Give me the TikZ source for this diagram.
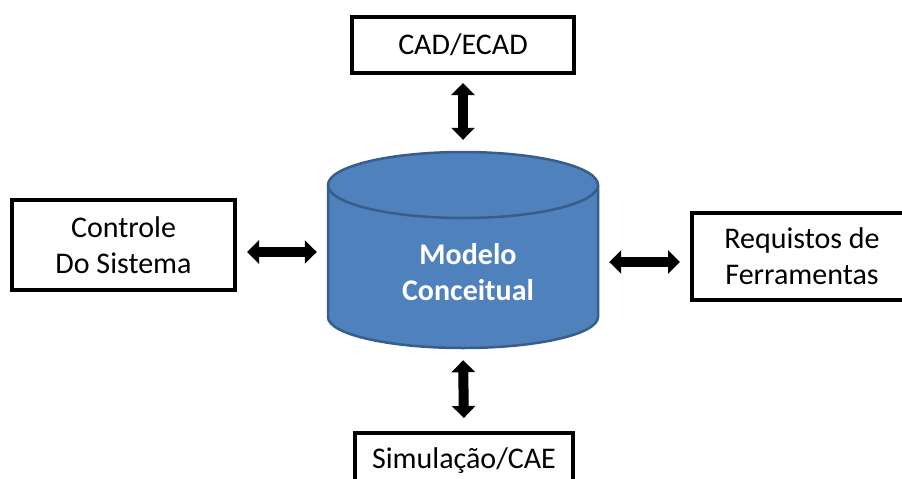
\documentclass[tikz,border=0pt]{standalone}
\usepackage{fontspec}
\setmainfont{Carlito}
\usetikzlibrary{arrows.meta}
\definecolor{dbfill}{HTML}{4F81BD}
\definecolor{dbedge}{HTML}{385D8A}
\begin{document}
\begin{tikzpicture}[x=1pt,y=-1pt,
  box/.style={draw=black,line width=4pt,fill=white,inner sep=0pt,align=center,
    font=\fontsize{30}{36}\selectfont},
  biarrow/.style={line width=10pt,
    {Triangle[width=23pt,length=12pt]}-{Triangle[width=23pt,length=12pt]}},
  dbtext/.style={align=center,text=white,font=\fontsize{30}{36}\selectfont\bfseries}]
\useasboundingbox (0,0) rectangle (902,479);
\clip (0,0) rectangle (902,479);

% central data store drawn as a cylinder (y axis points down)
\fill[dbfill] (328,185) -- (328,317) arc[start angle=180,end angle=0,x radius=135,y radius=31]
  -- (598,185) arc[start angle=0,end angle=-180,x radius=135,y radius=33] -- cycle;
\draw[dbedge,line width=2.5pt] (328,185) -- (328,317)
  arc[start angle=180,end angle=0,x radius=135,y radius=31] -- (598,185);
\draw[dbedge,line width=2.5pt] (463,185) ellipse[x radius=135,y radius=33];
\node[minimum width=270pt,minimum height=196pt,inner sep=0pt] (model) at (463,250) {};
\node[dbtext] (modeltext) at (468,272) {Modelo\\Conceitual};

% surrounding blocks
\node[box,minimum width=222pt,minimum height=56pt] (cad) at (463,45) {CAD/ECAD};
\node[box,minimum width=223pt,minimum height=90pt] (ctrl) at (123.5,245) {Controle\\Do Sistema};
\node[box,minimum width=220pt,minimum height=87pt] (tools) at (802,256.5) {Requistos de\\Ferramentas};
\node[box,minimum width=218pt,minimum height=56pt] (sim) at (464,461) {Simulação/CAE};

% rows of the horizontal links
\coordinate (lrow) at (0,252);
\coordinate (rrow) at (0,262);

% two-way links
\draw[biarrow,shorten <=8pt,shorten >=12pt] (cad.south) -- (model.north);
\draw[biarrow,shorten <=12pt,shorten >=13pt] (model.south) -- (sim.north);
\draw[biarrow,shorten <=10pt,shorten >=11pt] (ctrl.east |- lrow) -- (model.west |- lrow);
\draw[biarrow,shorten <=11pt,shorten >=10pt] (model.east |- rrow) -- (tools.west |- rrow);
\end{tikzpicture}
\end{document}
